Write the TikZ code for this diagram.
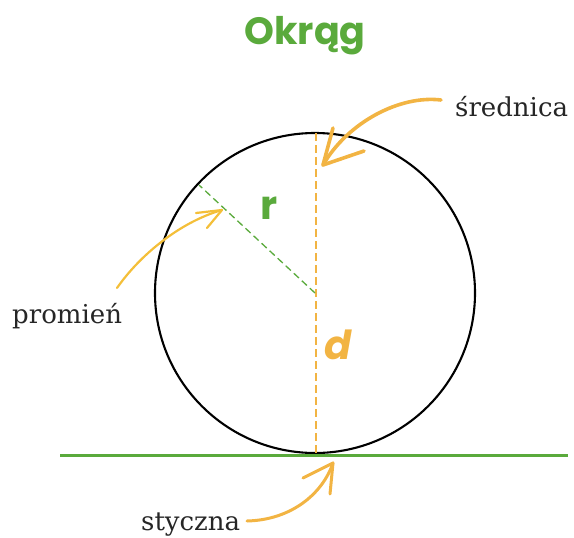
\documentclass[tikz,border=0pt]{standalone}
\usepackage{fontspec}
\setmainfont{DejaVu Serif}
\newfontfamily\titlefont{Poppins}
\definecolor{cgreen}{HTML}{5AAA3C}
\definecolor{corange}{HTML}{F2B443}
\begin{document}
\begin{tikzpicture}[x=1pt,y=-1pt,
  lbl/.style={font=\fontsize{26}{30}\selectfont\mdseries, text=black!85, inner sep=0pt},
  harrow/.style={corange, line cap=round, line join=round},
]
\useasboundingbox (0,0) rectangle (574,538);
\node (title) at (305,36) {\titlefont\bfseries\fontsize{38}{42}\selectfont\color{cgreen}Okrąg};
\coordinate (c) at (315,293);
\draw[black, line width=2.1pt] (c) circle (160);
\coordinate (top) at (316,133);
\coordinate (bot) at (316,453);
\coordinate (rend) at (199,185);
\draw[corange, line width=1.5pt, dash pattern=on 8pt off 4pt] (top) -- (bot);
\draw[cgreen, line width=1.3pt, dash pattern=on 7pt off 4pt] (c) -- (rend);
\coordinate (tl) at (60,455);
\coordinate (tr) at (568,455);
\draw[cgreen, line width=3pt] (tl) -- (tr);
\node (r) at (269,208) {\titlefont\bfseries\fontsize{40}{44}\selectfont\color{cgreen}r};
\node (d) at (338,345) {\titlefont\bfseries\itshape\fontsize{40}{44}\selectfont\color{corange}d};
\node[lbl, anchor=base west] (sr) at (455,116) {średnica};
\node[lbl, anchor=base west] (pr) at (12,323) {promień};
\node[lbl, anchor=base west] (st) at (141,530) {styczna};
% srednica arrow
\coordinate (srs) at (441,100);
\coordinate (srt) at (323,165);
\coordinate (sra) at (333,128);
\coordinate (srb) at (364,151);
\draw[harrow, line width=3.6pt] (srs) .. controls (400,95) and (348,122) .. (srt);
\draw[harrow, line width=3.6pt] (sra) -- (srt) -- (srb);
% promien arrow
\coordinate (prs) at (117,288);
\coordinate (prt) at (222,210);
\coordinate (pra) at (196,213);
\coordinate (prb) at (207,228);
\draw[harrow, line width=2.2pt, corange!85!yellow] (prs) .. controls (140,255) and (180,222) .. (prt);
\draw[harrow, line width=2.2pt, corange!85!yellow] (pra) -- (prt) -- (prb);
% styczna arrow
\coordinate (sts) at (247,521);
\coordinate (stt) at (333,463);
\coordinate (sta) at (303,478);
\coordinate (stb) at (330,494);
\draw[harrow, line width=3pt] (sts) .. controls (290,520) and (322,495) .. (stt);
\draw[harrow, line width=3pt] (sta) -- (stt) -- (stb);
\end{tikzpicture}
\end{document}
